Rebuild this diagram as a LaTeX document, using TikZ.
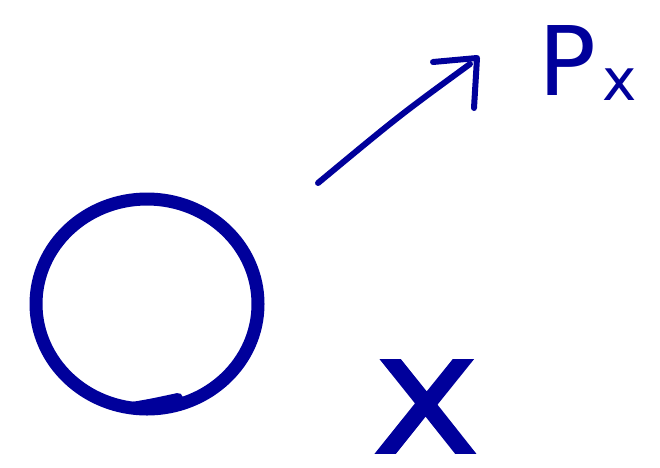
\documentclass[tikz,border=0pt]{standalone}
\usepackage{fontspec}
\newfontfamily\handfont{DejaVu Sans}
\newfontfamily\handbold{DejaVu Sans}[FakeBold=3]
\definecolor{ink}{RGB}{0,0,155}
\tikzset{
  pen/.style={draw=ink, line cap=round, line join=round},
  lbl/.style={text=ink, inner sep=0pt, anchor=base west},
}
\begin{document}
\begin{tikzpicture}[x=1pt,y=-1pt]
\useasboundingbox[fill=white] (0,0) rectangle (660,467);
% circle
\draw[pen, line width=13] (147,304) ellipse [x radius=111, y radius=105];
\draw[pen, line width=10] (126,408) .. controls (150,404) .. (178,398);
% arrow
\coordinate (a0) at (318,183);
\coordinate (a1) at (470,64);
\coordinate (h0) at (433,62);
\coordinate (h1) at (477,58);
\coordinate (h2) at (474,108);
\draw[pen, line width=6] (a0) .. controls (400,115) .. (a1);
\draw[pen, line width=6] (h0) -- (h1) -- (h2);
% labels
\node[lbl] (P) at (538,95) {\fontsize{96}{96}\selectfont\handfont P};
\node[lbl] (x) at (602,100) {\fontsize{58}{58}\selectfont\handfont x};
\node[lbl] (X) at (374,452) {\scalebox{1.2}[1]{\fontsize{125}{125}\selectfont\handbold X}};
\end{tikzpicture}
\end{document}
